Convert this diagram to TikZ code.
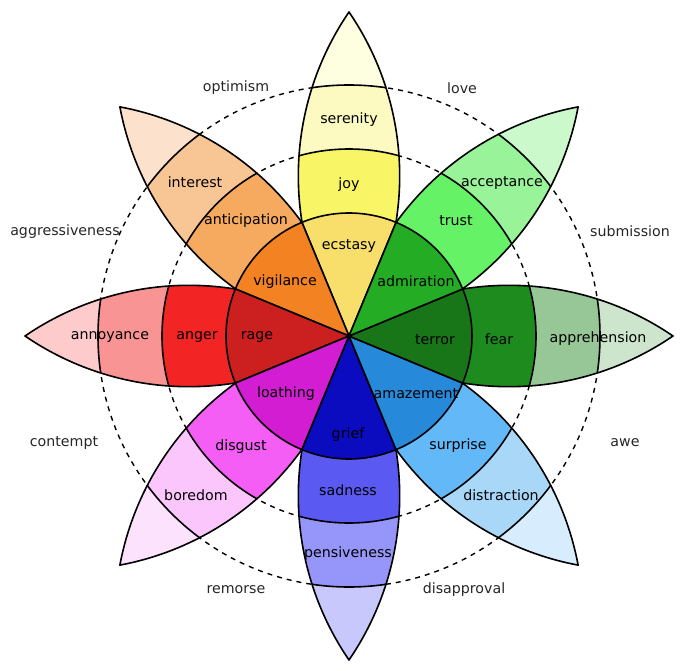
\documentclass[tikz,border=0pt]{standalone}
\usepackage{fontspec}
\setmainfont{DejaVu Sans}
% colours
\definecolor{ylA}{HTML}{F8DE6B}\definecolor{ylB}{HTML}{F8F566}\definecolor{ylC}{HTML}{FCFAC0}\definecolor{ylD}{HTML}{FEFEE1}
\definecolor{orA}{HTML}{F38222}\definecolor{orB}{HTML}{F5AA5F}\definecolor{orC}{HTML}{F8C694}\definecolor{orD}{HTML}{FCE1CC}
\definecolor{rdA}{HTML}{CC1F1F}\definecolor{rdB}{HTML}{F22424}\definecolor{rdC}{HTML}{F99494}\definecolor{rdD}{HTML}{FDCBCB}
\definecolor{mgA}{HTML}{D31DD3}\definecolor{mgB}{HTML}{F55EF4}\definecolor{mgC}{HTML}{FBC6FB}\definecolor{mgD}{HTML}{FDE2FD}
\definecolor{buA}{HTML}{0B0BBF}\definecolor{buB}{HTML}{5A5AF2}\definecolor{buC}{HTML}{9696FA}\definecolor{buD}{HTML}{C8C8FD}
\definecolor{lbA}{HTML}{2789D9}\definecolor{lbB}{HTML}{63B9F8}\definecolor{lbC}{HTML}{A8D7F8}\definecolor{lbD}{HTML}{D7ECFD}
\definecolor{dgA}{HTML}{187518}\definecolor{dgB}{HTML}{1E8B1E}\definecolor{dgC}{HTML}{97C797}\definecolor{dgD}{HTML}{CCE5CC}
\definecolor{gnA}{HTML}{25AC25}\definecolor{gnB}{HTML}{66F266}\definecolor{gnC}{HTML}{99F399}\definecolor{gnD}{HTML}{CBF9CB}
\newcommand{\wheelpetal}[4]{%
\begin{scope}[rotate=#1-90]
 \begin{scope}
  \clip (0,-4) arc[start angle=-34.35,end angle=34.35,radius=290.7] arc[start angle=145.65,end angle=214.35,radius=290.7] -- cycle;
  \fill[#4] (0,0) circle (330);
  \fill[#3] (0,0) circle (251);
  \fill[#2] (0,0) circle (187);
  \draw[outline] (0,0) circle (187) (0,0) circle (251);
 \end{scope}
 \draw[outline] (0,-4) arc[start angle=-34.35,end angle=34.35,radius=290.7] arc[start angle=145.65,end angle=214.35,radius=290.7] -- cycle;
\end{scope}}
\newcommand{\wheelslice}[2]{%
 \filldraw[fill=#2, draw=black, outline] (0,0) -- (#1-22.5:123) arc[start angle=#1-22.5, end angle=#1+22.5, radius=123] -- cycle;}
\begin{document}
\begin{tikzpicture}[x=1pt,y=1pt,line join=round,
  outline/.style={line width=1.6pt},
  ringline/.style={line width=1.4pt, dash pattern=on 5pt off 5pt},
  lbl/.style={font=\fontsize{14.2}{17}\selectfont, inner sep=0pt, text=black},
  outlbl/.style={font=\fontsize{14.2}{17}\selectfont, inner sep=0pt, text=black!85}]
\useasboundingbox (-349,-334) rectangle (347,336);
\coordinate (c) at (0,0);
\draw[ringline] (c) circle (187);
\draw[ringline] (c) circle (251);
\wheelpetal{90}{ylB}{ylC}{ylD}
\wheelpetal{135}{orB}{orC}{orD}
\wheelpetal{180}{rdB}{rdC}{rdD}
\wheelpetal{225}{mgB}{mgC}{mgD}
\wheelpetal{270}{buB}{buC}{buD}
\wheelpetal{315}{lbB}{lbC}{lbD}
\wheelpetal{0}{dgB}{dgC}{dgD}
\wheelpetal{45}{gnB}{gnC}{gnD}
\wheelslice{90}{ylA}
\wheelslice{135}{orA}
\wheelslice{180}{rdA}
\wheelslice{225}{mgA}
\wheelslice{270}{buA}
\wheelslice{315}{lbA}
\wheelslice{0}{dgA}
\wheelslice{45}{gnA}
% labels
\begin{scope}[yshift=-2.5pt]
\node[lbl] (serenity) at (0,219) {serenity};
\node[lbl] (joy) at (0,154) {joy};
\node[lbl] (ecstasy) at (0,93) {ecstasy};
\node[lbl] (interest) at (-154,156) {interest};
\node[lbl] (anticipation) at (-103,118) {anticipation};
\node[lbl] (vigilance) at (-64,57) {vigilance};
\node[lbl] (annoyance) at (-239,2) {annoyance};
\node[lbl] (anger) at (-152,2) {anger};
\node[lbl] (rage) at (-92,2) {rage};
\node[lbl] (boredom) at (-153,-157) {boredom};
\node[lbl] (disgust) at (-108,-108) {disgust};
\node[lbl] (loathing) at (-63,-55) {loathing};
\node[lbl] (pensiveness) at (-1,-215) {pensiveness};
\node[lbl] (sadness) at (-1,-152) {sadness};
\node[lbl] (grief) at (-1,-96) {grief};
\node[lbl] (distraction) at (152,-157) {distraction};
\node[lbl] (surprise) at (109,-107) {surprise};
\node[lbl] (amazement) at (67,-55) {amazement};
\node[lbl] (apprehension) at (249,0) {apprehension};
\node[lbl] (fear) at (150,-1) {fear};
\node[lbl] (terror) at (86,-1) {terror};
\node[lbl] (acceptance) at (153,156) {acceptance};
\node[lbl] (trust) at (107,118) {trust};
\node[lbl] (admiration) at (67,57) {admiration};
% outer labels
\node[outlbl] (optimism) at (-113,250.5) {optimism};
\node[outlbl] (love) at (113,250.5) {love};
\node[outlbl] (aggressiveness) at (-284,107) {aggressiveness};
\node[outlbl] (submission) at (281,107) {submission};
\node[outlbl] (contempt) at (-285,-104) {contempt};
\node[outlbl] (awe) at (276,-104) {awe};
\node[outlbl] (remorse) at (-113,-251) {remorse};
\node[outlbl] (disapproval) at (115,-251) {disapproval};
\end{scope}
\end{tikzpicture}
\end{document}
